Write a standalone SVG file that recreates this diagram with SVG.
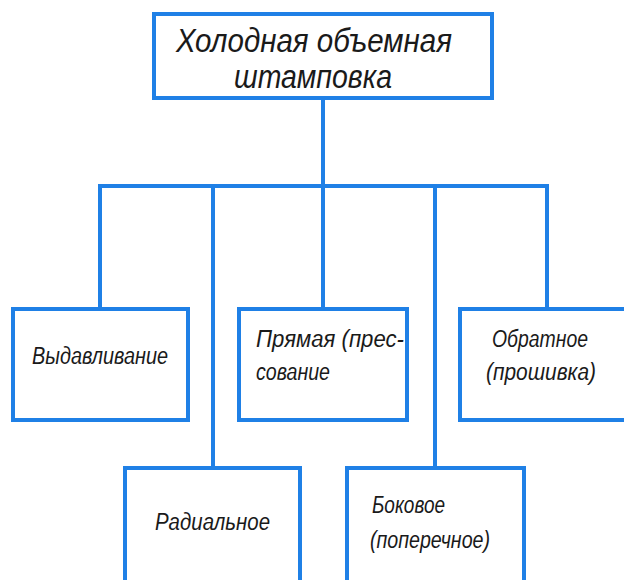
<svg xmlns="http://www.w3.org/2000/svg" width="624" height="580" viewBox="0 0 624 580">
<style>
.box{fill:#fff;stroke:#1f80e6;stroke-width:4}
.ln{fill:none;stroke:#1f80e6;stroke-width:4;stroke-linecap:square}
.t{font-family:"Liberation Sans Narrow","Liberation Sans",sans-serif;font-style:italic;fill:#1a1a1a}
.big{font-size:33px}
.sm{font-size:23px}
</style>
<rect width="624" height="580" fill="#fff"/>
<g id="connectors">
<path class="ln" d="M323 98V186M100 186H547M100 186V309M323 186V309M547 186V309M213 186V468M435 186V468"/>
</g>
<g id="root">
<rect class="box" x="154" y="14" width="338" height="84"/>
<text class="t big" x="176" y="52" textLength="276" lengthAdjust="spacingAndGlyphs">Холодная объемная</text>
<text class="t big" x="234" y="88" textLength="158" lengthAdjust="spacingAndGlyphs">штамповка</text>
</g>
<g id="vydavlivanie">
<rect class="box" x="13" y="309" width="175" height="111"/>
<text class="t sm" x="32" y="364" textLength="136" lengthAdjust="spacingAndGlyphs">Выдавливание</text>
</g>
<g id="pryamaya">
<rect class="box" x="239" y="309" width="168" height="111"/>
<text class="t sm" x="256" y="347" textLength="148" lengthAdjust="spacingAndGlyphs">Прямая (прес-</text>
<text class="t sm" x="256" y="380" textLength="74" lengthAdjust="spacingAndGlyphs">сование</text>
</g>
<g id="obratnoe">
<rect class="box" x="460" y="309" width="180" height="111"/>
<text class="t sm" x="492" y="347" textLength="96" lengthAdjust="spacingAndGlyphs">Обратное</text>
<text class="t sm" x="486" y="380" textLength="110" lengthAdjust="spacingAndGlyphs">(прошивка)</text>
</g>
<g id="radialnoe">
<rect class="box" x="125" y="468" width="175" height="130"/>
<text class="t sm" x="155" y="530" textLength="115" lengthAdjust="spacingAndGlyphs">Радиальное</text>
</g>
<g id="bokovoe">
<rect class="box" x="347" y="468" width="177" height="130"/>
<text class="t sm" x="372" y="513" textLength="73" lengthAdjust="spacingAndGlyphs">Боковое</text>
<text class="t sm" x="370" y="548" textLength="120" lengthAdjust="spacingAndGlyphs">(поперечное)</text>
</g>
</svg>
